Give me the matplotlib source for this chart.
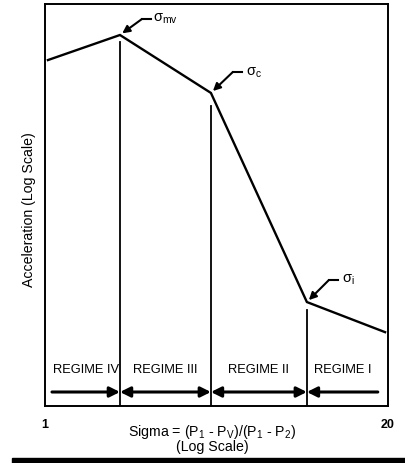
import matplotlib
matplotlib.use("Agg")
import matplotlib.pyplot as plt
from matplotlib.patches import Rectangle
from matplotlib.transforms import offset_copy

plt.rcParams['font.family'] = ['Liberation Sans', 'DejaVu Sans']
plt.rcParams['mathtext.default'] = 'regular'

# Data (log-log, arbitrary units)
sigma = [1.026, 1.925, 4.26, 9.85, 19.5]
accel = [52.6, 70.1, 36.1, 3.29, 2.33]
point_names = ['start', r'$\sigma_{mv}$', r'$\sigma_{c}$', r'$\sigma_{i}$', 'end']
boundary_sigma = [1.925, 4.26, 9.85]
boundary_top = [64.7, 31.1, 3.0]
regime_labels = ['REGIME IV', 'REGIME III', 'REGIME II', 'REGIME I']
regime_edges = [1.063, 1.925, 4.26, 9.85, 18.3]
xtick_vals = [1, 20]
xtick_labels = ['1', '20']

fig = plt.figure(figsize=(4.06, 4.63), dpi=100)
ax = fig.add_axes([0.1108, 0.1231, 0.8448, 0.8683])
ax.set_xscale('log')
ax.set_yscale('log')
ax.set_xlim(1, 20)
ax.set_ylim(1, 100)

ax.plot(sigma, accel, color='black', lw=1.7, solid_joinstyle='miter')
for xb, yt in zip(boundary_sigma, boundary_top):
    ax.plot([xb, xb], [1, yt], color='black', lw=1.3)

# Regime labels and arrows
y_lab = 1.51
y_arr = 1.174
for i, lab in enumerate(regime_labels):
    x0, x1 = regime_edges[i], regime_edges[i + 1]
    xm = (x0 * x1) ** 0.5
    ax.text(xm, y_lab, lab, ha='center', va='center', fontsize=9.3)

def arrow(style, a, b):
    ax.annotate('', xy=(b, y_arr), xytext=(a, y_arr),
                arrowprops=dict(arrowstyle=style, color='black', lw=2.2,
                                mutation_scale=15, shrinkA=0, shrinkB=0))

arrow('-|>', regime_edges[0], regime_edges[1])
arrow('<|-|>', regime_edges[1], regime_edges[2])
arrow('<|-|>', regime_edges[2], regime_edges[3])
arrow('-|>', regime_edges[4], regime_edges[3])

# Point annotations: (index, arrow tail offset px, text offset px)
ann = [(1, (22, 16), (33, 16)), (2, (22, 21), (35, 20)), (3, (22, 22), (35, 22))]
inv = fig.transFigure.inverted()
for idx, (dx, dy), (tx, ty) in ann:
    xp, yp = sigma[idx], accel[idx]
    ax.annotate('', xy=(xp, yp), xytext=(dx, dy), textcoords='offset pixels',
                arrowprops=dict(arrowstyle='-|>', color='black', lw=1.5,
                                mutation_scale=11, shrinkA=0, shrinkB=2))
    ax.annotate(point_names[idx], xy=(xp, yp), xytext=(tx, ty), textcoords='offset pixels',
                fontsize=10.5, ha='left', va='center')
    p1 = offset_copy(ax.transData, fig=fig, x=dx, y=dy, units='dots').transform((xp, yp))
    p2 = offset_copy(ax.transData, fig=fig, x=dx + 9, y=dy, units='dots').transform((xp, yp))
    f1, f2 = inv.transform(p1), inv.transform(p2)
    fig.add_artist(plt.Line2D([f1[0], f2[0]], [f1[1], f2[1]], color='black', lw=1.5))

ax.set_xticks(xtick_vals)
ax.set_xticklabels(xtick_labels, fontsize=9, fontweight='bold')
ax.minorticks_off()
ax.set_yticks([])
ax.tick_params(axis='x', length=0, pad=9)
for s in ax.spines.values():
    s.set_linewidth(1.4)

fig.text(29 / 406, (463 - 210) / 463, 'Acceleration (Log Scale)', rotation=90,
         ha='center', va='center', fontsize=10.2)
fig.text(212 / 406, (463 - 432) / 463, 'Sigma = (P$_{1}$ - P$_{V}$)/(P$_{1}$ - P$_{2}$)',
         ha='center', va='center', fontsize=10.2)
fig.text(212 / 406, (463 - 447) / 463, '(Log Scale)', ha='center', va='center', fontsize=10.2)

fig.add_artist(Rectangle((12 / 406, 0), 1 - 12 / 406, 5 / 463, transform=fig.transFigure,
                         color='black', zorder=0))

fig.savefig('out.png', dpi=100)
